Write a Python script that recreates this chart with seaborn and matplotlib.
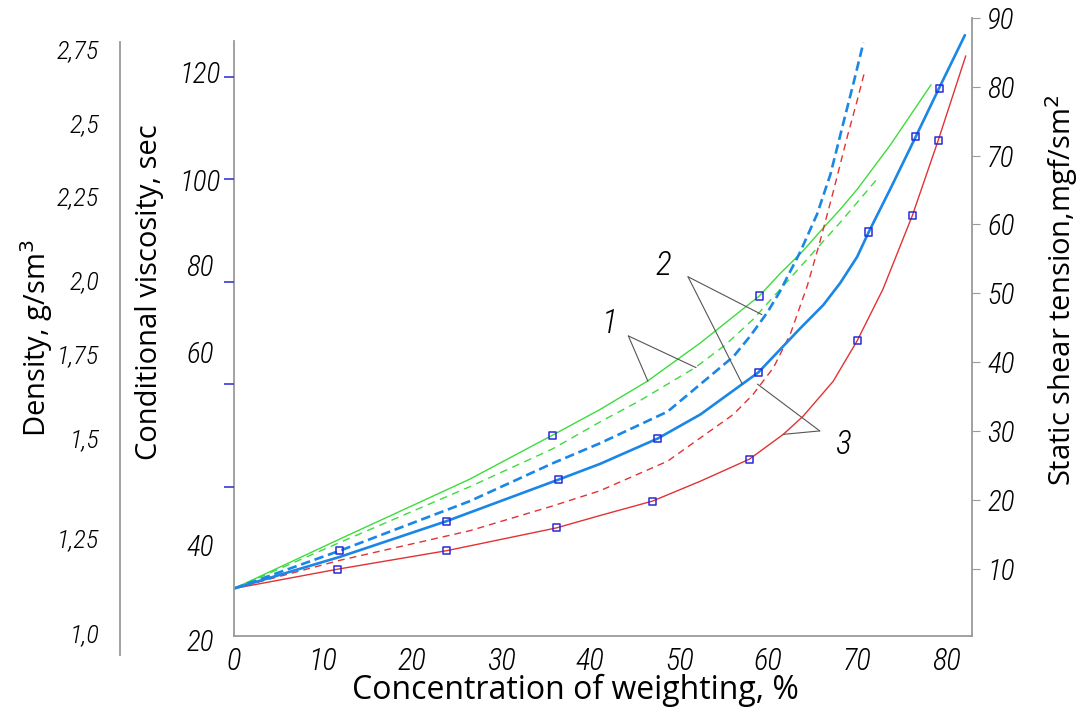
import numpy as np
import pandas as pd
import seaborn as sns
import matplotlib.pyplot as plt
import matplotlib.transforms as mtransforms

# concentration of weighting, %  and curve values read on the shear-tension scale
green_x = [0, 11.9, 26.5, 35.8, 41.1, 46.4, 52.4, 59.0, 61.3, 63.8, 66.2, 68.1, 70.0, 73.7, 78.3]
green_y = [7.1, 14.3, 23.0, 29.4, 33.1, 37.2, 42.8, 49.6, 52.8, 56.0, 59.5, 62.2, 65.1, 71.5, 80.3]
green2_x = [0, 11.9, 26.5, 35.8, 41.1, 45.6, 51.8, 55.2, 58.3, 61.3, 64.7, 68.1, 72.5]
green2_y = [7.1, 13.8, 21.9, 27.4, 31.3, 34.4, 39.2, 42.5, 46.2, 50.5, 55.4, 60.3, 67.0]

blue_x = [0, 11.9, 23.9, 36.4, 41.1, 47.6, 52.4, 58.9, 63.6, 66.2, 68.1, 70.0, 71.3, 73.7, 76.6, 79.2, 82.1]
blue_y = [7.1, 11.7, 16.9, 22.9, 25.2, 28.9, 32.4, 38.5, 44.9, 48.3, 51.5, 55.3, 58.9, 65.1, 72.8, 79.8, 87.5]
blue2_x = [0, 11.9, 26.5, 35.8, 41.1, 48.7, 56.1, 58.0, 59.9, 61.3, 63.6, 65.5, 67.0, 68.4, 69.6, 70.7]
blue2_y = [7.1, 12.6, 19.8, 25.3, 28.2, 32.8, 40.8, 43.8, 47.2, 50.2, 56.0, 61.5, 67.3, 74.5, 80.6, 86.4]

red_x = [0, 11.6, 23.9, 36.2, 41.1, 47.0, 52.4, 57.9, 61.7, 63.9, 67.3, 70.0, 72.9, 76.2, 79.1, 82.2]
red_y = [7.1, 9.9, 12.6, 15.9, 17.7, 19.8, 22.7, 25.9, 29.5, 32.1, 37.2, 43.1, 50.6, 61.3, 72.2, 84.5]
red2_x = [0, 11.9, 26.5, 35.8, 41.1, 48.7, 56.1, 58.3, 60.6, 62.5, 64.4, 65.8, 67.3, 68.9, 70.0, 70.8]
red2_y = [7.1, 11.2, 15.5, 19.1, 21.3, 25.6, 32.4, 35.3, 39.2, 44.1, 51.1, 57.4, 64.7, 72.8, 78.0, 82.0]

# measured points (squares)
pts_blue_x = [11.9, 23.9, 36.4, 47.6, 58.9, 71.3, 76.6, 79.2]
pts_blue_y = [12.6, 16.9, 22.9, 28.9, 38.5, 58.9, 72.8, 79.8]
pts_green_x = [35.8, 59.0]
pts_green_y = [29.4, 49.6]
pts_red_x = [11.6, 23.9, 36.2, 47.0, 57.9, 70.0, 76.2, 79.1]
pts_red_y = [9.9, 12.6, 15.9, 19.8, 25.9, 43.1, 61.3, 72.2]

# axis ticks
x_ticks = [0, 10, 20, 30, 40, 50, 60, 70, 80]
shear_ticks = [10, 20, 30, 40, 50, 60, 70, 80, 90]
visc_ticks = [40, 60, 80, 100, 120]
visc_labels = ['120', '100', '80', '60', '40', '20']
dens_labels = ['1,0', '1,25', '1,5', '1,75', '2,0', '2,25', '2,5', '2,75']

# layout of the hand-drawn scales
visc_label_pos = [120.4, 99.3, 82.7, 65.8, 28.1, 9.6]
dens_pos = [0.036, 0.192, 0.354, 0.491, 0.612, 0.750, 0.868, 0.990]

NUM_FONT = ['Roboto Condensed', 'Liberation Sans Narrow', 'DejaVu Sans']
LAB_FONT = ['Open Sans', 'DejaVu Sans']
GREEN = '#3ddc3d'
BLUE = '#1a86e6'
RED = '#e23232'
AXC = '#9a9a9a'

sns.set_style('white')
plt.rcParams['font.family'] = LAB_FONT
plt.rcParams['text.color'] = 'black'


def num_style(labels):
    for t in labels:
        t.set_family(NUM_FONT)
        t.set_style('italic')
        t.set_weight('light')


fig = plt.figure(figsize=(10.8, 7.09), dpi=100)
ax = fig.add_axes([234 / 1080, 73 / 709, 738 / 1080, 618 / 709])
vis = ax.twinx()

curves = [
    (green_x, green_y, GREEN, 1.0, None),
    (green2_x, green2_y, GREEN, 1.0, (5.5, 4.0)),
    (red_x, red_y, RED, 1.0, None),
    (red2_x, red2_y, RED, 1.0, (5.0, 3.6)),
    (blue_x, blue_y, BLUE, 1.9, None),
    (blue2_x, blue2_y, BLUE, 1.9, (3.6, 1.8)),
]
for cx, cy, col, lw, dash in curves:
    line = sns.lineplot(x=cx, y=cy, ax=ax, color=col, linewidth=lw, sort=False)
    line.get_lines()[-1].set_solid_joinstyle('round')
    if dash is not None:
        line.get_lines()[-1].set_dashes(dash)

for px, py in [(pts_blue_x, pts_blue_y), (pts_green_x, pts_green_y), (pts_red_x, pts_red_y)]:
    sns.scatterplot(x=px, y=py, ax=ax, marker='s', s=26, facecolor='none',
                    edgecolor='#2a2ad8', linewidth=1.1, zorder=5)

# leader lines for curve numbers
leaders = [
    ((44.3, 43.8), [(46.5, 37.2), (51.9, 39.2)], '1', (42.2, 45.6)),
    ((51.0, 52.4), [(59.3, 46.9), (57.1, 36.8)], '2', (48.2, 54.0)),
    ((65.8, 30.0), [(58.8, 36.8), (61.7, 29.5)], '3', (68.4, 28.0)),
]
for vtx, ends, lab, lpos in leaders:
    for e in ends:
        ax.plot([vtx[0], e[0]], [vtx[1], e[1]], color='#555555', linewidth=0.8)
    ax.text(lpos[0], lpos[1], lab, fontsize=24, style='italic', weight='light',
            family=NUM_FONT, ha='center', va='center')

ax.set_xlim(0, 82.9)
ax.set_ylim(0.2, 89.5)
ax.set_xticks(x_ticks)
ax.yaxis.tick_right()
ax.set_yticks(shear_ticks)
ax.spines['top'].set_visible(False)
for s in ['left', 'right', 'bottom']:
    ax.spines[s].set_color(AXC)
    ax.spines[s].set_linewidth(1.3)
ax.spines['left'].set_bounds(0.2, 86.6)
ax.tick_params(axis='x', length=5, color=AXC, labelsize=22, pad=2, labelcolor='black')
ax.tick_params(axis='y', length=6, color=AXC, labelsize=21, pad=5, right=True, left=False,
               labelcolor='black')
num_style(ax.get_xticklabels() + ax.get_yticklabels())

vis.yaxis.tick_left()
vis.set_ylim(10.93, 131.5)
vis.set_yticks(visc_ticks)
vis.set_yticklabels([])
vis.tick_params(axis='y', length=7, width=1.2, color='#3a3ad6', left=True, right=False)
for s in vis.spines.values():
    s.set_visible(False)
tr = mtransforms.blended_transform_factory(vis.transAxes, vis.transData)
for pos, lab in zip(visc_label_pos, visc_labels):
    vis.text(-0.046, pos, lab, transform=tr, ha='center', va='center', fontsize=21,
             style='italic', weight='light', family=NUM_FONT)

axd = fig.add_axes([120 / 1080, 54 / 709, 0.0001, 613 / 709])
axd.set_ylim(0, 1)
axd.set_xticks([])
axd.set_yticks(dens_pos)
axd.set_yticklabels(dens_labels)
for s in ['top', 'right', 'bottom']:
    axd.spines[s].set_visible(False)
axd.spines['left'].set_color(AXC)
axd.spines['left'].set_linewidth(1.3)
axd.tick_params(axis='y', length=6, color=AXC, labelsize=19, pad=9, labelcolor='black')
num_style(axd.get_yticklabels())
axd.patch.set_visible(False)

fig.text(37 / 1080, 1 - 338 / 709, 'Density, g/sm$^3$', rotation=90, ha='center', va='center', fontsize=21)
fig.text(150 / 1080, 1 - 292 / 709, 'Conditional viscosity, sec', rotation=90, ha='center', va='center', fontsize=21)
fig.text(1062 / 1080, 1 - 290 / 709, 'Static shear tension,mgf/sm$^2$', rotation=90, ha='center', va='center', fontsize=21)
fig.text(575 / 1080, 1 - 690 / 709, 'Concentration of weighting, %', ha='center', va='center', fontsize=23)

fig.savefig('out.png', dpi=100)
